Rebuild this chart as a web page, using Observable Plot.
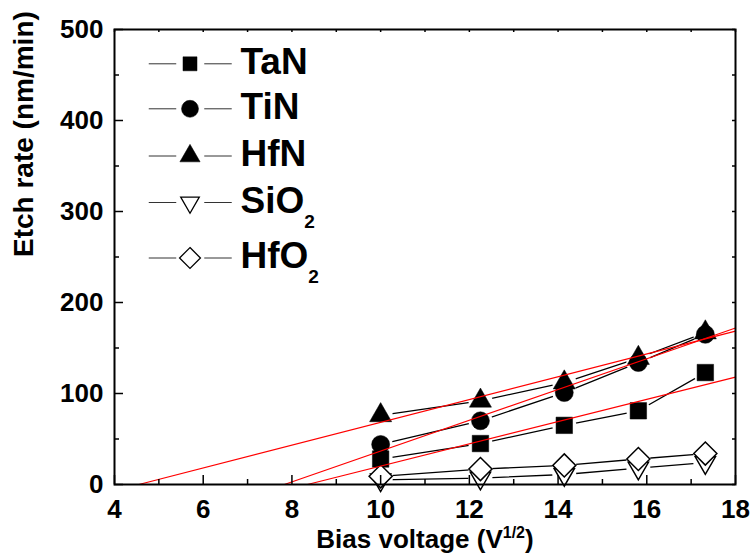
<!DOCTYPE html>
<html>
<head>
<meta charset="utf-8">
<script src="https://cdn.jsdelivr.net/npm/d3@7"></script>
<script src="https://cdn.jsdelivr.net/npm/@observablehq/plot@0.6"></script>
<style>
  html, body { margin: 0; padding: 0; background: #fff; }
  #chart { width: 753px; height: 558px; }
</style>
</head>
<body>
<div id="chart"></div>
<script>
// ---------------- data ----------------
const biasX = [10, 12.25, 14.14, 15.81, 17.32];           // sqrt(V)
const seriesNames = ["TaN", "TiN", "HfN", "SiO2", "HfO2"];
const tanRate  = [28, 45, 65, 81, 123];
const tinRate  = [44, 70, 101, 134, 165];
const hfnRate  = [76, 92, 112, 139, 167];
const sio2Rate = [5, 7, 11, 18, 24];
const hfo2Rate = [9, 17, 21, 28, 34];

// linear fits (red lines): x-intercept and value at the right edge (x = 18)
const fitNames = ["TaN", "TiN", "HfN"];
const fitXIntercept = [8.35, 7.83, 4.55];
const fitRateAt18 = [118, 172, 168.5];

const xMajorTicks = [4, 6, 8, 10, 12, 14, 16, 18];
const xMinorTicks = [5, 7, 9, 11, 13, 15, 17];
const yMajorTicks = [0, 100, 200, 300, 400, 500];
const yMinorTicks = [50, 150, 250, 350, 450];

const xTitle = "Bias voltage (V1/2)";
const yTitle = "Etch rate (nm/min)";

// ---------------- layout / style ----------------
const W = 753, H = 558;
const mL = 114, mR = 18, mT = 29, mB = 74;
const plotW = W - mL - mR, plotH = H - mT - mB;
const FONT = "'Liberation Sans', Arial, Helvetica, sans-serif";

const sqrt3 = Math.sqrt(3);
const triangleDown = {
  draw(ctx, size) {
    const y = Math.sqrt(size / (sqrt3 * 3));
    ctx.moveTo(0, 2 * y);
    ctx.lineTo(-sqrt3 * y, -y);
    ctx.lineTo(sqrt3 * y, -y);
    ctx.closePath();
  }
};
const hline = {
  draw(ctx, size) {
    const w = Math.sqrt(size);
    ctx.moveTo(-w / 2, 0);
    ctx.lineTo(w / 2, 0);
  }
};

const style = {
  TaN:  {symbol: "square",   r: 9.3,  lr: 7.9, fill: "black", stroke: "black"},
  TiN:  {symbol: "circle",   r: 9.0,  lr: 8.5, fill: "black", stroke: "black"},
  HfN:  {symbol: "triangle", r: 8.2,  lr: 7.5, fill: "black", stroke: "black"},
  SiO2: {symbol: triangleDown, r: 7.5, lr: 6.9, fill: "white", stroke: "black"},
  HfO2: {symbol: "diamond2", r: 10.4, lr: 9.4, fill: "white", stroke: "black"}
};
const legendRowY = [63.3, 108.3, 155.5, 202, 257.5]; // pixel rows of legend

// ---------------- build tables ----------------
const rates = [tanRate, tinRate, hfnRate, sio2Rate, hfo2Rate];
const points = seriesNames.flatMap((s, i) => biasX.map((x, j) => ({series: s, x, rate: rates[i][j]})));
const fits = fitNames.flatMap((n, i) => [
  {name: n, x: fitXIntercept[i], rate: 0},
  {name: n, x: 18, rate: fitRateAt18[i]}
]);

const marks = [];
// connecting lines
marks.push(Plot.line(points, {x: "x", y: "rate", z: "series", stroke: "black", strokeWidth: 1.3}));
// white gaps around markers
marks.push(Plot.dot(points, {x: "x", y: "rate", r: 12, fill: "white", stroke: "none"}));
// markers
for (const s of seriesNames) {
  const st = style[s];
  marks.push(Plot.dot(points.filter(d => d.series === s), {
    x: "x", y: "rate", symbol: st.symbol, r: st.r, fill: st.fill, stroke: st.stroke,
    strokeWidth: st.fill === "white" ? 1.5 : 0.5
  }));
}
// red linear fits
marks.push(Plot.line(fits, {x: "x", y: "rate", z: "name", stroke: "#ff0000", strokeWidth: 1.2}));

// frame and ticks (inward)
marks.push(Plot.frame({stroke: "black", strokeWidth: 2}));
marks.push(Plot.tickX(xMajorTicks, {x: d => d, insetTop: plotH - 9, stroke: "black", strokeWidth: 1.5}));
marks.push(Plot.tickX(xMinorTicks, {x: d => d, insetTop: plotH - 5, stroke: "black", strokeWidth: 1.5}));
marks.push(Plot.tickX(xMajorTicks.concat(xMinorTicks), {x: d => d, insetBottom: plotH - 3, stroke: "black", strokeWidth: 1.5}));
marks.push(Plot.tickY(yMajorTicks, {y: d => d, insetRight: plotW - 9, stroke: "black", strokeWidth: 1.5}));
marks.push(Plot.tickY(yMinorTicks, {y: d => d, insetRight: plotW - 5, stroke: "black", strokeWidth: 1.5}));
marks.push(Plot.tickY(yMajorTicks.concat(yMinorTicks), {y: d => d, insetLeft: plotW - 3, stroke: "black", strokeWidth: 1.5}));

// tick labels
marks.push(Plot.text(xMajorTicks, {x: d => d, frameAnchor: "bottom", lineAnchor: "top", dy: 15,
  text: d => String(d), fontSize: 26, fontWeight: "bold", fill: "black"}));
marks.push(Plot.text(yMajorTicks, {y: d => d, frameAnchor: "left", textAnchor: "end", lineAnchor: "middle", dx: -11,
  text: d => String(d), fontSize: 26, fontWeight: "bold", fill: "black"}));

// axis titles
marks.push(Plot.text([xTitle], {frameAnchor: "bottom", lineAnchor: "middle", dy: 55, text: d => d,
  fontSize: 26, fontWeight: "bold", fill: "black"}));
marks.push(Plot.text([yTitle], {frameAnchor: "left", lineAnchor: "middle", dx: 24 - mL, rotate: -90, text: d => d,
  fontSize: 28, fontWeight: "bold", fill: "black"}));

// legend
seriesNames.forEach((s, i) => {
  const st = style[s];
  const dy = legendRowY[i] - mT;
  marks.push(Plot.dot([s], {frameAnchor: "top-left", dx: 162 - mL, dy, symbol: hline, r: 15.5, stroke: "#333", strokeWidth: 1, fill: "none"}));
  marks.push(Plot.dot([s], {frameAnchor: "top-left", dx: 217.5 - mL, dy, symbol: hline, r: 15.5, stroke: "#333", strokeWidth: 1, fill: "none"}));
  marks.push(Plot.dot([s], {frameAnchor: "top-left", dx: 189.5 - mL, dy, symbol: st.symbol, r: st.lr,
    fill: st.fill, stroke: st.stroke, strokeWidth: st.fill === "white" ? 1.3 : 0.5}));
  marks.push(Plot.text([s], {frameAnchor: "top-left", dx: 240 - mL, dy: dy - 1.5, text: d => d, textAnchor: "start",
    lineAnchor: "middle", fontSize: 37, fontWeight: "bold", fill: "black"}));
});

const chart = Plot.plot({
  width: W, height: H,
  marginLeft: mL, marginRight: mR, marginTop: mT, marginBottom: mB,
  x: {domain: [4, 18], axis: null},
  y: {domain: [0, 500], axis: null},
  style: {fontFamily: FONT, background: "white", color: "black", overflow: "visible"},
  marks
});
document.getElementById("chart").appendChild(chart);

// ---------------- sub/superscripts ----------------
const NS = "http://www.w3.org/2000/svg";
function rich(el, parts) {
  el.textContent = "";
  for (const p of parts) {
    const ts = document.createElementNS(NS, "tspan");
    ts.textContent = p.t;
    if (p.dy != null) ts.setAttribute("dy", p.dy);
    if (p.size != null) ts.setAttribute("font-size", p.size);
    el.appendChild(ts);
  }
}
chart.querySelectorAll("text").forEach(el => {
  const t = el.textContent;
  if (t === xTitle) {
    rich(el, [{t: "Bias voltage (V"}, {t: "1/2", dy: -10, size: 16}, {t: ")", dy: 10}]);
  } else if (t === "SiO2" || t === "HfO2") {
    rich(el, [{t: t.slice(0, -1)}, {t: "2", dy: 15, size: 19}]);
  }
});
</script>
</body>
</html>
